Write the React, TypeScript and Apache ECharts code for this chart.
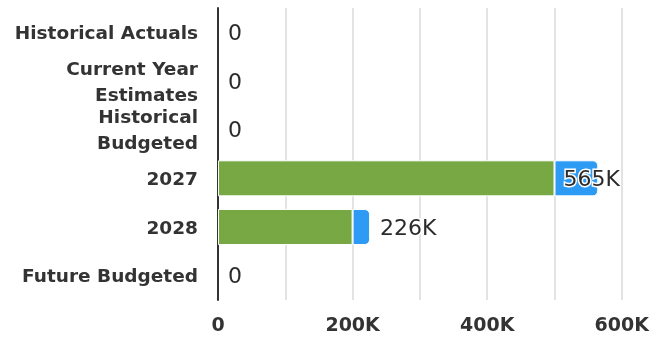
import React, { useEffect, useRef } from "react";
import * as echarts from "echarts";

const categories = [
  "Historical Actuals",
  "Current Year Estimates",
  "Historical Budgeted",
  "2027",
  "2028",
  "Future Budgeted",
];
const categoryLabels = [
  "Historical Actuals",
  "Current Year\nEstimates",
  "Historical\nBudgeted",
  "2027",
  "2028",
  "Future Budgeted",
];
const greenValues = [0, 0, 0, 500000, 200000, 0];
const blueValues = [0, 0, 0, 65000, 26000, 0];
const xTicks = [0, 100000, 200000, 300000, 400000, 500000, 600000];

const FONT = "DejaVu Sans";

function fmt(v: number): string {
  if (v === 0) return "0";
  return Math.round(v / 1000) + "K";
}

export default function App() {
  const ref = useRef<HTMLDivElement>(null);
  useEffect(() => {
    if (!ref.current) return;
    const chart = echarts.init(ref.current, undefined, { renderer: "svg" });
    const totals = greenValues.map((g, i) => g + blueValues[i]);
    const gridLeft = 218;
    const gridRight = 29;
    const width = 652;
    chart.setOption({
      animation: false,
      grid: { left: gridLeft, right: gridRight, top: 8, bottom: 37, containLabel: false },
      xAxis: {
        type: "value",
        min: xTicks[0],
        max: xTicks[xTicks.length - 1],
        interval: 100000,
        axisLine: { show: false },
        axisTick: { show: false },
        splitLine: { show: true, lineStyle: { color: "#e3e3e3", width: 2 } },
        axisLabel: {
          fontFamily: FONT,
          fontWeight: "bold",
          fontSize: 19,
          color: "#333",
          margin: 14,
          formatter: (v: number) => ((v / 100000) % 2 === 0 ? fmt(v) : ""),
        },
      },
      yAxis: {
        type: "category",
        inverse: true,
        data: categories,
        axisTick: { show: false },
        axisLine: { show: true, lineStyle: { color: "#333", width: 2 } },
        axisLabel: {
          fontFamily: FONT,
          fontWeight: "bold",
          fontSize: 18.5,
          color: "#333",
          lineHeight: 26,
          margin: 20,
          align: "right",
          formatter: (_v: string, idx: number) => categoryLabels[idx],
        },
      },
      series: [
        {
          type: "bar",
          stack: "s",
          data: greenValues.map((v) => (v === 0 ? "-" : v)),
          barCategoryGap: "26%",
          itemStyle: { color: "#77a843", borderColor: "#fff", borderWidth: 1 },
        },
        {
          type: "bar",
          stack: "s",
          data: blueValues.map((v) => (v === 0 ? "-" : v)),
          itemStyle: {
            color: "#2d9bf3",
            borderColor: "#fff",
            borderWidth: 1,
            borderRadius: [0, 5, 5, 0],
          },
        },
        {
          type: "bar",
          stack: "s",
          data: totals.map(() => 0),
          itemStyle: { color: "transparent" },
          label: {
            show: true,
            position: "right",
            distance: 10,
            fontFamily: FONT,
            fontWeight: "normal",
            fontSize: 22,
            color: "#2b2b2b",
            textBorderColor: "#fff",
            textBorderWidth: 3,
            formatter: (p: any) => fmt(totals[p.dataIndex]),
          },
          labelLayout: (params: any) => {
            const r = params.labelRect;
            const limit = width - gridRight;
            if (r.x + r.width > limit) {
              return {
                x: limit - r.width,
                y: r.y + r.height / 2,
                align: "left",
                verticalAlign: "middle",
              };
            }
            return {};
          },
        },
      ],
    });
    return () => chart.dispose();
  }, []);
  return (
    <div
      ref={ref}
      style={{ position: "fixed", left: 0, top: 0, width: 652, height: 337 }}
    />
  );
}
